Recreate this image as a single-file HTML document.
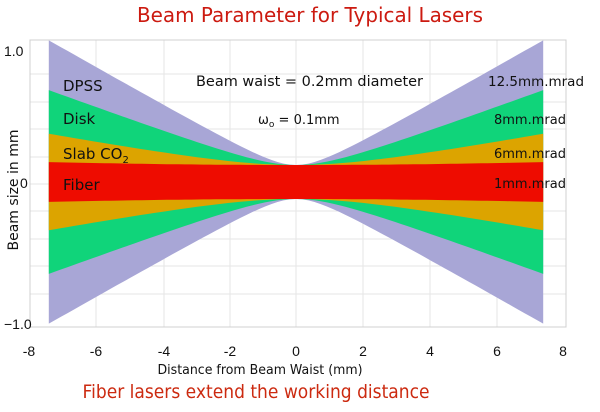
<!DOCTYPE html>
<html><head><meta charset="utf-8"><style>
body{margin:0;background:#fff;width:600px;height:407px;overflow:hidden;font-family:"Liberation Sans","DejaVu Sans",sans-serif}
</style></head><body>
<svg width="600" height="407" xmlns="http://www.w3.org/2000/svg" font-family="Liberation Sans, DejaVu Sans, sans-serif">
<text x="310" y="22" text-anchor="middle" font-size="20" font-family="DejaVu Sans, sans-serif" textLength="346" lengthAdjust="spacingAndGlyphs" fill="#cc1a10">Beam Parameter for Typical Lasers</text>
<g stroke="#e6e6e6" stroke-width="1">
<line x1="96" y1="40" x2="96" y2="327"/><line x1="164" y1="40" x2="164" y2="327"/><line x1="230" y1="40" x2="230" y2="327"/><line x1="296" y1="40" x2="296" y2="327"/><line x1="363" y1="40" x2="363" y2="327"/><line x1="430" y1="40" x2="430" y2="327"/><line x1="497" y1="40" x2="497" y2="327"/>
<line x1="30" y1="74" x2="566" y2="74"/><line x1="30" y1="102" x2="566" y2="102"/><line x1="30" y1="129" x2="566" y2="129"/><line x1="30" y1="157" x2="566" y2="157"/><line x1="30" y1="184" x2="566" y2="184"/><line x1="30" y1="211" x2="566" y2="211"/><line x1="30" y1="239" x2="566" y2="239"/><line x1="30" y1="266" x2="566" y2="266"/><line x1="30" y1="294" x2="566" y2="294"/>
</g>
<rect x="30" y="40" width="536" height="287" fill="none" stroke="#d0d0d0"/>
<g id="beams"></g>
<g font-family="DejaVu Sans, sans-serif">
<text x="63" y="91" font-size="15" fill="#111">DPSS</text>
<text x="63" y="124" font-size="15" fill="#111">Disk</text>
<text x="63" y="159" font-size="15" fill="#111">Slab CO<tspan font-size="10" dy="4">2</tspan></text>
<text x="63" y="190" font-size="15" fill="#111">Fiber</text>
<text x="196" y="86" font-size="14" textLength="227" lengthAdjust="spacingAndGlyphs" fill="#111">Beam waist = 0.2mm diameter</text>
<text x="258" y="124" font-size="13" fill="#111">ω<tspan font-size="9" dy="3">o</tspan><tspan dy="-3"> = 0.1mm</tspan></text>
<text x="488" y="86" font-size="13" textLength="96" lengthAdjust="spacingAndGlyphs" fill="#111">12.5mm.mrad</text>
<text x="494" y="124" font-size="13" fill="#111">8mm.mrad</text>
<text x="494" y="158" font-size="13" fill="#111">6mm.mrad</text>
<text x="494" y="188" font-size="13" fill="#111">1mm.mrad</text>
</g>
<text x="4" y="56" font-size="14" fill="#111">1.0</text>
<text x="20" y="188" font-size="14" fill="#111">0</text>
<text x="4" y="329" font-size="14" fill="#111">−1.0</text>
<text transform="translate(18,190) rotate(-90)" text-anchor="middle" font-size="14" font-family="DejaVu Sans, sans-serif" fill="#111">Beam size in mm</text>
<g font-size="14" fill="#111" text-anchor="middle">
<text x="29" y="356">-8</text><text x="96" y="356">-6</text><text x="164" y="356">-4</text><text x="230" y="356">-2</text><text x="296" y="356">0</text><text x="363" y="356">2</text><text x="430" y="356">4</text><text x="497" y="356">6</text><text x="563" y="356">8</text>
</g>
<text x="260" y="374" text-anchor="middle" font-size="13" font-family="DejaVu Sans, sans-serif" textLength="205" lengthAdjust="spacingAndGlyphs" fill="#111">Distance from Beam Waist (mm)</text>
<text x="256" y="398" text-anchor="middle" font-size="19" font-family="DejaVu Sans, sans-serif" textLength="347" lengthAdjust="spacingAndGlyphs" fill="#cc2a10">Fiber lasers extend the working distance</text>
<script>
var g=document.getElementById('beams');
var bands=[[19,'#a8a6d6'],[12.2,'#10d47a'],[6.1,'#dca400'],[1.4,'#ee0c00']];
bands.forEach(function(b){
var top=[],bot=[];
for(var i=0;i<=80;i++){var z=-7.4+14.8*i/80;var w=Math.sqrt(17*17+Math.pow(b[0]*z,2));if(b[0]<2)w=Math.max(w,17);var x=296+33.4*z;top.push(x.toFixed(1)+','+(182-w).toFixed(1));bot.unshift(x.toFixed(1)+','+(182+w).toFixed(1));}
var p=document.createElementNS('http://www.w3.org/2000/svg','polygon');p.setAttribute('points',top.concat(bot).join(' '));p.setAttribute('fill',b[1]);g.appendChild(p);});
</script>
</svg>
</body></html>
